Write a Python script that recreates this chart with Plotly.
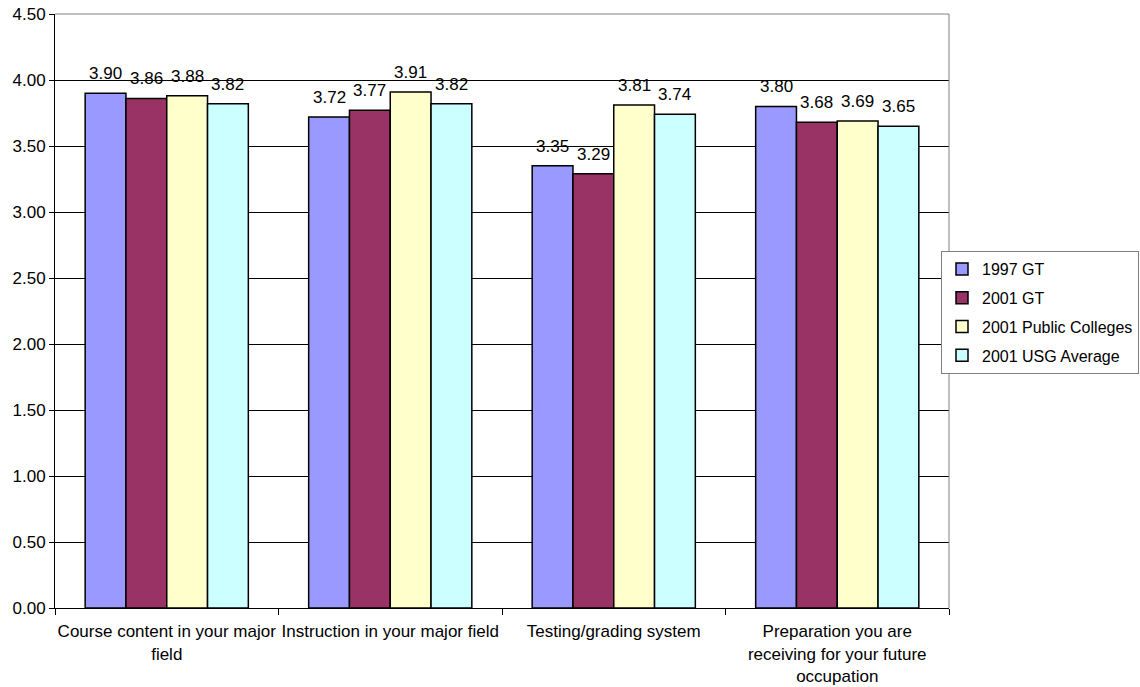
import plotly.graph_objects as go

categories = [
    "Course content in your major<br>field",
    "Instruction in your major field",
    "Testing/grading system",
    "Preparation you are<br>receiving for your future<br>occupation",
]
series_names = ["1997 GT", "2001 GT", "2001 Public Colleges", "2001 USG Average"]
gt_1997 = [3.90, 3.72, 3.35, 3.80]
gt_2001 = [3.86, 3.77, 3.29, 3.68]
public_2001 = [3.88, 3.91, 3.81, 3.69]
usg_2001 = [3.82, 3.82, 3.74, 3.65]
y_ticks = [0.0, 0.5, 1.0, 1.5, 2.0, 2.5, 3.0, 3.5, 4.0, 4.5]

colors = ["#9999FF", "#993366", "#FFFFCC", "#CCFFFF"]
font_family = "Liberation Sans, Arial, sans-serif"

W, H = 1140, 687
margin = dict(l=55, r=191, t=14, b=79)
bargap = 0.27
plot_w = W - margin["l"] - margin["r"]
bar_px = plot_w / len(categories) * (1 - bargap) / len(series_names)

fig = go.Figure()
annotations = []
all_series = [gt_1997, gt_2001, public_2001, usg_2001]
for i, (name, vals, col) in enumerate(zip(series_names, all_series, colors)):
    fig.add_trace(go.Bar(
        x=categories, y=vals, name=name, legendgroup=name,
        marker=dict(color=col, line=dict(color="black", width=1.5)),
    ))
    # value labels above each bar
    for cat, v in zip(categories, vals):
        annotations.append(dict(
            x=cat, y=v, xref="x", yref="y", text=f"{v:.2f}",
            showarrow=False, yanchor="bottom", yshift=8,
            xshift=(i - (len(series_names) - 1) / 2) * bar_px,
            font=dict(size=17, color="black", family=font_family),
        ))

fig.update_layout(
    width=W, height=H,
    margin=dict(margin, autoexpand=False),
    paper_bgcolor="white", plot_bgcolor="white",
    barmode="group", bargap=bargap, bargroupgap=0,
    font=dict(family=font_family, color="black", size=17),
    annotations=annotations,
    legend=dict(
        xref="container", yref="container",
        x=941 / W, y=1 - 251 / H, xanchor="left", yanchor="top",
        bordercolor="#808080", borderwidth=1, bgcolor="white",
        font=dict(size=16), itemwidth=30, tracegroupgap=5,
    ),
    xaxis=dict(
        showline=True, linecolor="black", linewidth=1, automargin=False,
        ticks="outside", tickson="boundaries", ticklen=6, tickcolor="black",
        tickfont=dict(size=17), tickangle=0, ticklabelstandoff=8, showgrid=False,
    ),
    yaxis=dict(
        range=[0, 4.5], tickvals=y_ticks, ticktext=[f"{v:.2f}" for v in y_ticks],
        showline=True, linecolor="black", linewidth=1, automargin=False,
        ticks="outside", ticklen=5, tickcolor="black",
        showgrid=True, gridcolor="black", gridwidth=1,
        tickfont=dict(size=17), zeroline=False,
    ),
    shapes=[
        dict(type="line", xref="paper", yref="paper", x0=0, x1=1, y0=1, y1=1,
             line=dict(color="#808080", width=1), layer="above"),
        dict(type="line", xref="paper", yref="paper", x0=1, x1=1, y0=0, y1=1,
             line=dict(color="#808080", width=1), layer="above"),
    ],
)

fig.write_html("out.html")
